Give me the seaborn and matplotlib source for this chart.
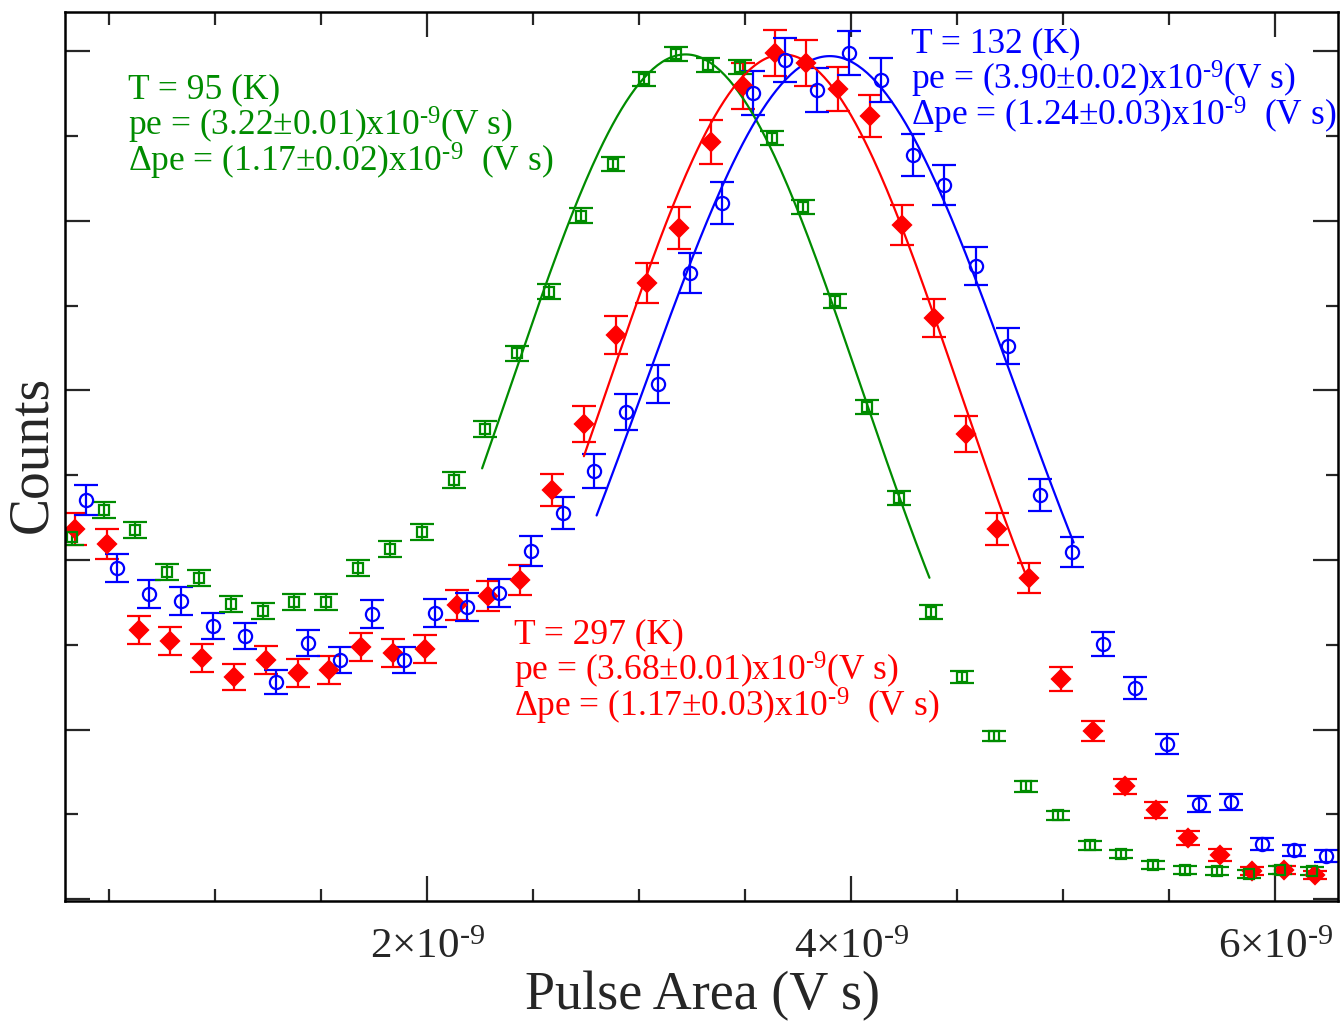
import numpy as np
import pandas as pd
import matplotlib
matplotlib.use("Agg")
import matplotlib.pyplot as plt
from matplotlib.ticker import MultipleLocator, NullFormatter
import seaborn as sns

# pulse area in units of 1e-9 V s, counts in arbitrary units
x_95 = [0.325, 0.475, 0.625, 0.775, 0.925, 1.075, 1.225, 1.375, 1.525, 1.675,
        1.825, 1.975, 2.125, 2.275, 2.425, 2.575, 2.725, 2.875, 3.025, 3.175,
        3.325, 3.475, 3.625, 3.775, 3.925, 4.075, 4.225, 4.375, 4.525, 4.675,
        4.825, 4.975, 5.125, 5.275, 5.425, 5.575, 5.725, 5.875, 6.025, 6.175]
y_95 = [213.5, 229.4, 217.6, 192.9, 189.4, 174.1, 170.0, 175.3, 175.3, 195.3,
        206.5, 216.5, 247.1, 277.1, 321.8, 358.2, 402.9, 433.5, 483.5, 498.2,
        491.8, 490.6, 448.8, 408.2, 352.9, 290.0, 236.5, 169.4, 131.2, 96.5,
        66.5, 49.4, 31.8, 26.5, 20.0, 17.1, 16.5, 14.7, 17.1, 16.5]
e_95 = [4.7, 4.7, 4.7, 4.7, 4.7, 4.7, 4.7, 4.7, 4.7, 4.7,
        4.7, 4.7, 4.7, 4.7, 4.4, 4.4, 4.4, 4.1, 4.1, 4.1,
        4.1, 4.1, 4.1, 4.1, 4.1, 4.1, 4.1, 4.1, 3.5, 2.9,
        3.1, 2.8, 2.6, 2.4, 2.4, 2.4, 2.4, 2.4, 2.4, 2.4]

x_297 = [0.34, 0.49, 0.64, 0.79, 0.94, 1.09, 1.24, 1.39, 1.54, 1.69,
         1.84, 1.99, 2.14, 2.29, 2.44, 2.59, 2.74, 2.89, 3.04, 3.19,
         3.34, 3.49, 3.64, 3.79, 3.94, 4.09, 4.24, 4.39, 4.54, 4.69,
         4.84, 4.99, 5.14, 5.29, 5.44, 5.59, 5.74, 5.89, 6.04, 6.19]
y_297 = [218.2, 209.4, 158.8, 152.4, 142.4, 131.2, 141.2, 133.5, 135.3, 148.8,
         145.3, 147.6, 173.5, 178.8, 188.2, 241.2, 280.0, 332.9, 363.5, 395.9,
         446.5, 479.4, 498.8, 492.9, 477.6, 461.8, 397.6, 342.9, 274.1, 218.2,
         189.4, 130.0, 99.4, 66.5, 52.9, 35.9, 25.9, 16.5, 17.1, 14.1]
e_297 = [9.4, 8.8, 8.2, 8.2, 8.2, 7.6, 8.2, 8.2, 8.2, 8.2,
         8.2, 8.2, 8.8, 8.8, 8.8, 9.4, 10.6, 11.2, 11.8, 12.4,
         12.9, 13.5, 13.5, 13.5, 12.9, 12.4, 11.8, 11.2, 10.6, 9.4,
         8.8, 7.1, 5.9, 4.7, 4.7, 4.1, 3.5, 2.4, 2.4, 2.4]

x_132 = [0.39, 0.54, 0.69, 0.84, 0.99, 1.14, 1.29, 1.44, 1.59, 1.74,
         1.89, 2.04, 2.19, 2.34, 2.49, 2.64, 2.79, 2.94, 3.09, 3.24,
         3.39, 3.54, 3.69, 3.84, 3.99, 4.14, 4.29, 4.44, 4.59, 4.74,
         4.89, 5.04, 5.19, 5.34, 5.49, 5.64, 5.79, 5.94, 6.09, 6.24]
y_132 = [235.3, 195.3, 180.0, 175.9, 161.2, 155.3, 128.2, 151.2, 141.2, 168.2,
         141.2, 168.8, 172.4, 180.6, 205.3, 227.6, 252.4, 287.1, 303.5, 369.4,
         410.6, 475.3, 494.7, 477.1, 498.8, 482.9, 438.8, 421.2, 373.5, 325.9,
         238.2, 204.7, 150.6, 124.7, 91.8, 55.9, 57.1, 32.4, 28.8, 25.3]
e_132 = [8.8, 8.2, 8.2, 8.2, 7.6, 7.6, 7.1, 7.6, 7.6, 8.2,
         7.6, 8.2, 8.2, 8.2, 8.8, 9.4, 10.0, 10.6, 11.2, 11.8,
         12.4, 12.9, 12.9, 12.9, 12.9, 12.9, 12.4, 11.8, 11.2, 10.6,
         9.4, 8.8, 7.1, 6.5, 5.9, 4.7, 4.7, 3.5, 3.5, 3.5]

# gaussian fit results, as printed on the chart
fit_pe = [3.22, 3.68, 3.90]
fit_dpe = [1.17, 1.17, 1.24]
fit_amp = [498.0, 498.0, 497.0]
fit_xmin = [2.26, 2.74, 2.80]
fit_xmax = [4.37, 4.83, 5.05]

temps = ["95", "297", "132"]
pe_txt = ["3.22\u00b10.01", "3.68\u00b10.01", "3.90\u00b10.02"]
dpe_txt = ["1.17\u00b10.02", "1.17\u00b10.03", "1.24\u00b10.03"]

GREEN = "#008c00"
colors = [GREEN, "#ff0000", "#0000ff"]
HY = "\u2010"  # plain hyphen for the exponents, as in the original

sns.set_style("ticks")
plt.rcParams["font.family"] = ["Liberation Serif", "DejaVu Serif"]
plt.rcParams["mathtext.fontset"] = "custom"
plt.rcParams["mathtext.rm"] = "Liberation Serif"
plt.rcParams["mathtext.it"] = "Liberation Serif:italic"

W, H = 1344, 1024
fig = plt.figure(figsize=(W / 100, H / 100), dpi=100)
ax = fig.add_axes([65 / W, 123 / H, 1273 / W, 889 / H])

series = [
    (x_297, y_297, e_297, "D", colors[1], True),
    (x_132, y_132, e_132, "o", colors[2], False),
    (x_95, y_95, e_95, "s", colors[0], False),
]
msizes = {"D": 9.5, "o": 9.5, "s": 7.5}
for xs, ys, es, mk, c, filled in series:
    ax.errorbar(xs, ys, yerr=es, fmt=mk, color=c, ms=msizes[mk],
                mfc=c if filled else "none", mec=c, mew=1.6,
                elinewidth=1.6, capsize=8.5, capthick=1.6)

# fit curves
for i in range(3):
    xf = np.linspace(fit_xmin[i], fit_xmax[i], 200)
    yf = fit_amp[i] * np.exp(-((xf - fit_pe[i]) / fit_dpe[i]) ** 2)
    sns.lineplot(x=xf, y=yf, color=colors[i], lw=1.6, ax=ax)

ax.set_xlim(0.2925, 6.297)
ax.set_ylim(-1, 523)

ax.xaxis.set_major_locator(MultipleLocator(2))
ax.xaxis.set_minor_locator(MultipleLocator(0.5))
ax.yaxis.set_major_locator(MultipleLocator(100))
ax.yaxis.set_minor_locator(MultipleLocator(50))
ax.yaxis.set_major_formatter(NullFormatter())
ax.set_xticks([2, 4, 6])
ax.set_xticklabels(["$%d{\\times}10^{%s9}$" % (v, HY) for v in (2, 4, 6)])

ax.tick_params(which="both", direction="in", top=True, right=True, width=1.6)
ax.tick_params(which="major", length=18, labelsize=31, pad=20)
ax.tick_params(which="minor", length=9)
for sp in ax.spines.values():
    sp.set_linewidth(1.8)
    sp.set_color("black")

ax.set_xlabel("Pulse Area (V s)", fontsize=39)
ax.xaxis.set_label_coords(0.501, -0.078)
ax.set_ylabel("Counts", fontsize=40)
ax.yaxis.set_label_coords(-0.0055, 0.502)

# fit result annotations (left x, first line y in pixels)
ann_pos = [(128, 90), (514, 635), (911, 44)]
for i in range(3):
    px, py = ann_pos[i]
    lines = [
        "T = %s (K)" % temps[i],
        "pe = (%s)x10$^{%s9}$(V s)" % (pe_txt[i], HY),
        "\u0394pe = (%s)x10$^{%s9}$  (V s)" % (dpe_txt[i], HY),
    ]
    for k, line in enumerate(lines):
        fig.text(px / W, 1 - (py + 35.5 * k) / H, line, color=colors[i],
                 fontsize=25.5, ha="left", va="center")

fig.savefig("out.png", dpi=100)
